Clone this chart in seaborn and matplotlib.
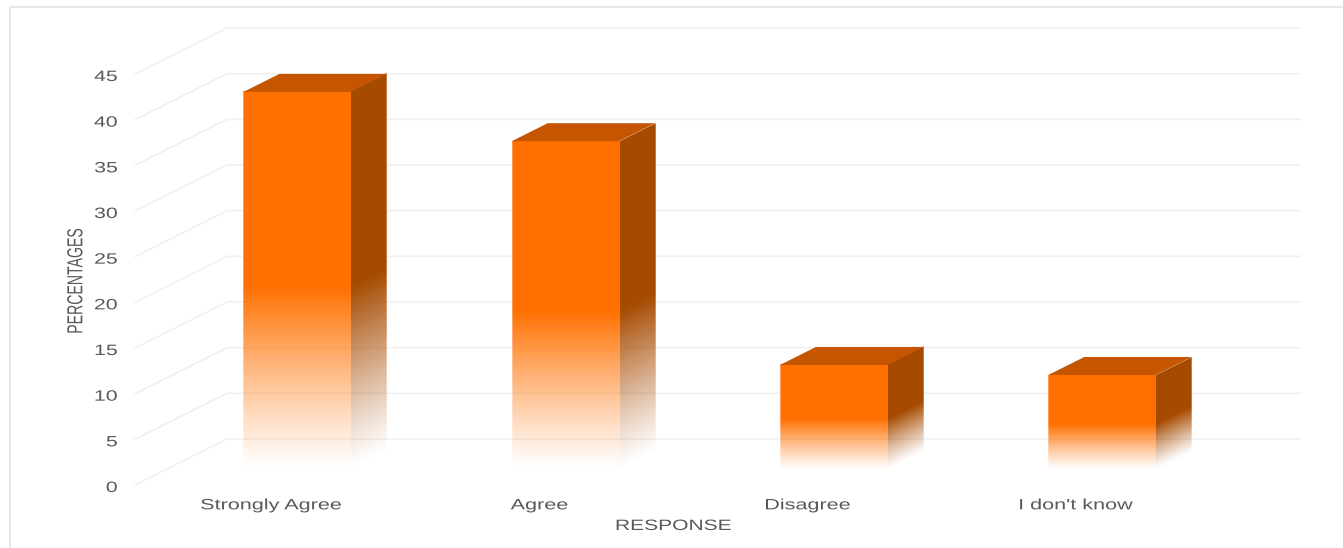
import numpy as np
import matplotlib
matplotlib.use("Agg")
import matplotlib.pyplot as plt
import matplotlib.patheffects as pe
from matplotlib.patches import Polygon, Rectangle
from matplotlib.transforms import Affine2D, IdentityTransform
from matplotlib.colors import to_rgb
import seaborn as sns

categories = ["Strongly Agree", "Agree", "Disagree", "I don't know"]
percentages = [41.4, 36.0, 11.5, 10.4]
y_ticks = [0, 5, 10, 15, 20, 25, 30, 35, 40, 45]
x_title = "RESPONSE"
y_title = "PERCENTAGES"

W, H = 1343, 548
FRONT = "#FF7000"; SIDE = "#A64A00"; TOP = "#C55500"
FRONT_EDGE = "#FF9A58"; SIDE_EDGE = "#C87A40"
GRID = "#F0F0F0"; TEXT = "#595959"; FRAME = "#E2E2E2"
WALL_DX, WALL_DY = 92, 46      # floor depth, pixels
BAR_DX, BAR_DY = 26, 15        # bar set-back from the front of the floor
SIDE_DX, SIDE_DY = 36, 18      # bar depth


class Stretch(pe.AbstractPathEffect):
    """Draw a text stretched in its own frame, like the squeezed source image."""
    def __init__(self, sx, sy, anchor=0.5, dy=0):
        super().__init__()
        self.sx, self.sy, self.anchor, self.dy = sx, sy, anchor, dy

    def draw_path(self, renderer, gc, tpath, affine, rgbFace=None):
        ext = tpath.get_extents()
        ax_ = ext.x0 + self.anchor * (ext.x1 - ext.x0)
        ay_ = 0.5 * (ext.y0 + ext.y1)
        m = (Affine2D().translate(-ax_, -ay_).scale(self.sx, self.sy)
             .translate(ax_, ay_) + affine + Affine2D().translate(0, self.dy))
        renderer.draw_path(gc, tpath, m, rgbFace)


plt.rcParams["font.family"] = ["Liberation Sans", "DejaVu Sans"]
sns.set_theme(style="white", rc={"figure.dpi": 100, "savefig.dpi": 100})
plt.rcParams["font.family"] = ["Liberation Sans", "DejaVu Sans"]

fig = plt.figure(figsize=(W / 100, H / 100), dpi=100, facecolor="white")
ax = fig.add_axes([137 / W, 1 - 485 / H, 1073 / W, 411 / H])
fig.add_artist(Rectangle((9.5, H - 700), W + 50, 700 - 6.5, transform=IdentityTransform(),
                         fill=False, ec=FRAME, lw=1.1))

sns.barplot(x=categories, y=percentages, color=FRONT, saturation=1, width=0.4, ax=ax, zorder=3)
ax.set_xlim(-0.5, 3.5)
ax.set_ylim(0, 45)
ax.set_yticks(y_ticks)
ax.patch.set_alpha(0)
sns.despine(ax=ax, left=True, bottom=True, top=True, right=True)

# walls: grid lines run along the floor depth, then along the back wall
for v in y_ticks:
    x0, y0 = ax.transData.transform((-0.5, v))
    ax.plot([x0 - 2, x0 - 2 + WALL_DX, 1301], [y0, y0 + WALL_DY, y0 + WALL_DY],
            transform=IdentityTransform(), color=GRID, lw=1.1, zorder=1, clip_on=False)


def gradient(color, n_cols, edge_col, edge_color):
    """Vertical fade: solid above, transparent at the floor; one lighter edge column."""
    arr = np.ones((400, n_cols, 4))
    arr[..., :3] = to_rgb(color)
    arr[..., 3] = (np.clip(np.linspace(0, 1, 400) / 0.485, 0, 1) ** 1.15)[:, None]
    arr[:, edge_col, :3] = to_rgb(edge_color)
    return arr


def face(arr, a, b, c, d, e, f):
    ax.imshow(arr, origin="lower", extent=(0, 1, 0, 1), aspect="auto",
              interpolation="nearest", clip_on=False, zorder=3,
              transform=Affine2D.from_values(a, b, c, d, e, f))


for patch in list(ax.patches):
    x_l, y_b = ax.transData.transform((patch.get_x(), 0))
    x_r, y_t = ax.transData.transform((patch.get_x() + patch.get_width(), patch.get_height()))
    x_l += BAR_DX; x_r += BAR_DX; y_b += BAR_DY; y_t += BAR_DY
    patch.set_facecolor("none")
    patch.set_edgecolor("none")
    patch.set_transform(ax.transData + Affine2D().translate(BAR_DX, BAR_DY))
    face(gradient(SIDE, SIDE_DX, -1, SIDE_EDGE), SIDE_DX, SIDE_DY, 0, y_t - y_b, x_r + 0.5, y_b)
    face(gradient(FRONT, int(x_r - x_l), 0, FRONT_EDGE), x_r - x_l, 0, 0, y_t - y_b, x_l, y_b)
    ax.add_patch(Polygon([(x_l, y_t), (x_l + SIDE_DX, y_t + SIDE_DY),
                          (x_r + SIDE_DX, y_t + SIDE_DY), (x_r, y_t)],
                         closed=True, fc=TOP, ec="none", zorder=3,
                         transform=IdentityTransform(), clip_on=False))

ax.set_xlim(-0.5, 3.5)
ax.set_ylim(0, 45)

FS = 10.8
ax.tick_params(axis="y", length=0, pad=14, labelsize=FS, labelcolor=TEXT)
ax.tick_params(axis="x", length=0, pad=9.6, labelsize=FS, labelcolor=TEXT)
for lab in ax.get_yticklabels():
    lab.set_path_effects([Stretch(1.42, 1.0, anchor=1.0, dy=-1.5)])
for lab in ax.get_xticklabels():
    lab.set_path_effects([Stretch(1.44, 1.0)])

ax.set_xlabel(x_title, fontsize=FS, color=TEXT)
ax.set_ylabel(y_title, fontsize=FS, color=TEXT)
ax.xaxis.set_label_coords(0.5, -34 / 411)
ax.yaxis.set_label_coords((77 + 6 - 137) / 1073, (485 - 281) / 411)
ax.xaxis.label.set_path_effects([Stretch(1.40, 1.0)])
ax.yaxis.label.set_path_effects([Stretch(0.94, 1.45)])

fig.savefig("out.png", dpi=100, facecolor="white")
